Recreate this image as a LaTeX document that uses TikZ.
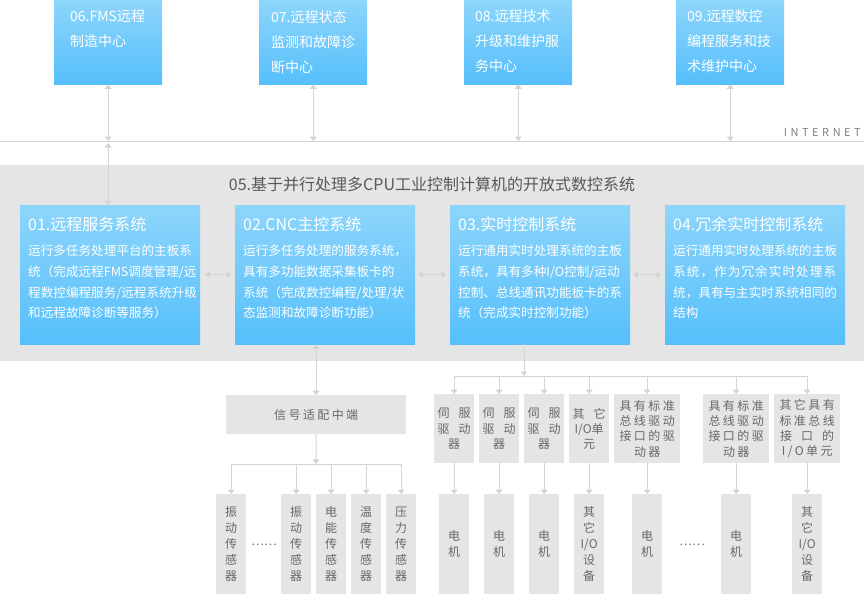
\documentclass[tikz,border=0pt]{standalone}
\usepackage{fontspec}
\setmainfont{Noto Sans CJK SC}
\newfontfamily\spacedfont[LetterSpace=20]{Noto Sans CJK SC}
\newfontfamily\loosefont[LetterSpace=8.5]{Noto Sans CJK SC}
\newfontfamily\netfont[LetterSpace=32]{Noto Sans CJK SC}
\usetikzlibrary{arrows.meta, calc, positioning}

\definecolor{blueTop}{RGB}{141,213,251}
\definecolor{blueBot}{RGB}{86,191,251}
\definecolor{panelGray}{RGB}{229,229,229}
\definecolor{lineGray}{RGB}{212,212,212}
\definecolor{textGray}{RGB}{104,104,104}

\tikzset{
  centre/.style={top color=blueTop, bottom color=blueBot, anchor=north west, inner sep=0pt, minimum width=108pt, minimum height=84pt},
  centretext/.style={anchor=north west, inner sep=0pt, align=left, text=white, font=\fontsize{14}{25}\selectfont},
  sysbox/.style={top color=blueTop, bottom color=blueBot, anchor=north west, inner sep=0pt, minimum width=180pt, minimum height=139pt},
  systitle/.style={anchor=north west, inner sep=0pt, text=white, font=\fontsize{16}{20}\selectfont},
  systext/.style={anchor=north west, inner sep=0pt, align=left, text=white, font=\fontsize{12.6}{20.7}\selectfont},
  greybox/.style={fill=panelGray, anchor=north west, inner sep=0pt, align=center, text=textGray, font=\fontsize{12}{16}\selectfont},
  link/.style={draw=lineGray, line width=1pt},
  oneway/.style={link, -{Triangle[width=7pt,length=4.5pt]}},
  twoway/.style={link, {Triangle[width=7pt,length=4.5pt]}-{Triangle[width=7pt,length=4.5pt]}},
  dots/.style={text=textGray, inner sep=0pt, font=\fontsize{12}{14}\selectfont}
}

\begin{document}
\begin{tikzpicture}[x=1pt, y=-1pt]
\useasboundingbox (0,0) rectangle (864,594);

% Remote centres
\foreach \n/\x/\dx/\t in {06/54/16/{06.FMS远程\\制造中心}, 07/259/12/{07.远程状态\\监测和故障诊\\断中心}, 08/464/11/{08.远程技术\\升级和维护服\\务中心}, 09/676/11/{09.远程数控\\编程服务和技\\术维护中心}} {
    \node[centre] (c\n) at (\x,0) {};
    \node[centretext] (c\n t) at (\x+\dx,10) {\t};
}

% Internet
\coordinate (inetW) at (0,141);
\coordinate (inetE) at (864,141);
\draw[link] (inetW) -- (inetE);
\node[anchor=base east, inner sep=0pt, text=black!50, font=\netfont\fontsize{11}{12}\selectfont] (inet) at (861,136) {INTERNET};

% Open CNC panel
\node[fill=panelGray, anchor=north west, inner sep=0pt, minimum width=864pt, minimum height=196pt] (panel) at (0,165) {};
\node[inner sep=0pt, text=black!65, font=\fontsize{16}{18}\selectfont] (panelhead) at (432,184) {05.基于并行处理多CPU工业控制计算机的开放式数控系统};

% Subsystems
\foreach \n/\x/\h/\t in {
    01/20/{01.远程服务系统}/{运行多任务处理平台的主板系\\统（完成远程FMS调度管理/远\\程数控编程服务/远程系统升级\\和远程故障诊断等服务）},
    02/235/{02.CNC主控系统}/{运行多任务处理的服务系统，\\具有多功能数据采集板卡的\\系统（完成数控编程/处理/状\\态监测和故障诊断功能）},
    03/450/{03.实时控制系统}/{运行通用实时处理系统的主板\\系统，具有多种I/O控制/运动\\控制、总线通讯功能板卡的系\\统（完成实时控制功能）},
    04/665/{04.冗余实时控制系统}/{运行通用实时处理系统的主板\\{\loosefont 系统，作为冗余实时处理系}\\统，具有与主实时系统相同的\\结构}} {
    \node[sysbox] (s\n) at (\x,205) {};
    \node[systitle] (s\n h) at (\x+8,217) {\h};
    \node[systext] (s\n t) at (\x+8,245) {\t};
}
\draw[twoway, shorten <=5pt, shorten >=4pt] (s01.east) -- (s02.west);
\draw[twoway, shorten <=3pt, shorten >=4pt] (s02.east) -- (s03.west);
\draw[twoway, shorten <=3pt, shorten >=4pt] (s03.east) -- (s04.west);

% Links to the internet
\foreach \n in {06,07,08,09} {
    \draw[twoway] (c\n.south) -- (c\n.south |- inetW);
}
\draw[twoway] ($(c06.south |- inetW)+(0,2)$) -- (c06.south |- s01.north);

% Signal adaptor and sensors
\node[greybox, minimum width=180pt, minimum height=39pt, font=\spacedfont\fontsize{12}{14}\selectfont] (sig) at (226,395) {信号适配中端};
\draw[twoway] (sig.north |- s02.south) -- (sig.north);
\coordinate (sbus) at (316,464);
\draw[oneway] (sig.south) -- (sbus);
\foreach \i/\x/\t in {1/216/{振\\动\\传\\感\\器}, 2/281/{振\\动\\传\\感\\器}, 3/316/{电\\能\\传\\感\\器}, 4/351/{温\\度\\传\\感\\器}, 5/386/{压\\力\\传\\感\\器}} {
    \node[greybox, minimum width=30pt, minimum height=100pt] (sen\i) at (\x,494) {\t};
    \draw[oneway] (sbus -| sen\i.north) -- (sen\i.north);
}
\draw[link] (sbus -| sen1.north) -- (sbus -| sen5.north);
\node[dots] (sdots) at (264,545) {……};

% Drives and devices
\coordinate (dbus) at (524,376);
\draw[oneway] (s03.south -| dbus) -- (dbus);
\foreach \i/\x/\w/\f/\t in {1/434/40/\relax/{伺\hspace{9pt}服\\驱\hspace{9pt}动\\器}, 2/479/40/\relax/{伺\hspace{9pt}服\\驱\hspace{9pt}动\\器}, 3/524/40/\relax/{伺\hspace{9pt}服\\驱\hspace{9pt}动\\器}, 4/569/40/\relax/{其\hspace{9pt}它\\I/O单\\元}, 5/614/66/\spacedfont/{具有标准\\总线驱动\\接口的驱\\动器}, 6/703/66/\spacedfont/{具有标准\\总线驱动\\接口的驱\\动器}, 7/774/66/\spacedfont/{其它具有\\标准总线\\接\hspace{9pt}口\hspace{9pt}的\\I/O单元}} {
    \node[greybox, minimum width=\w pt, minimum height=69pt, font=\f\fontsize{12}{15.3}\selectfont] (drv\i) at (\x,394) {\t};
    \draw[oneway] (dbus -| drv\i.north) -- (drv\i.north);
}
\draw[link] (dbus -| drv1.north) -- (dbus -| drv7.north);
\foreach \i/\x/\t in {1/439/{电\\机}, 2/484/{电\\机}, 3/529/{电\\机}, 4/574/{其\\它\\I/O\\设\\备}, 5/632/{电\\机}, 6/721/{电\\机}, 7/792/{其\\它\\I/O\\设\\备}} {
    \node[greybox, minimum width=30pt, minimum height=100pt] (bot\i) at (\x,494) {\t};
    \draw[oneway] (drv\i.south) -- (bot\i.north);
}
\node[dots] (ddots) at (692,545) {……};
\end{tikzpicture}
\end{document}
